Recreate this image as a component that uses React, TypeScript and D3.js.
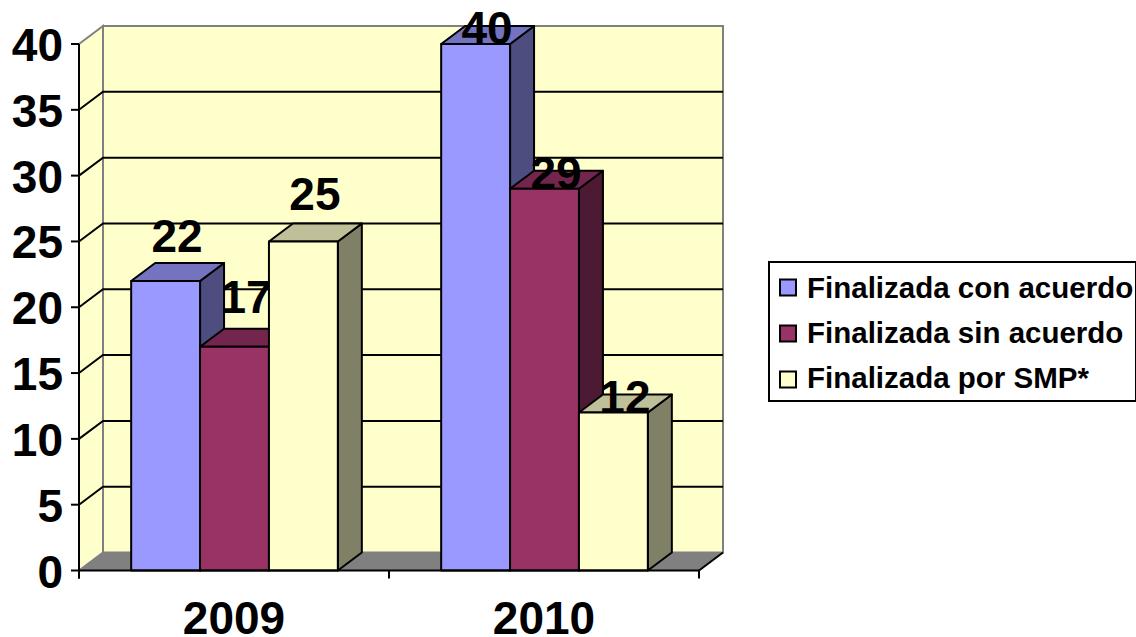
import React from "react";
import * as d3 from "d3";

const years = ["2009", "2010"];
const seriesNames = [
  "Finalizada con acuerdo",
  "Finalizada sin acuerdo",
  "Finalizada por SMP*",
];
const values2009 = [22, 17, 25];
const values2010 = [40, 29, 12];
const yTicks = [0, 5, 10, 15, 20, 25, 30, 35, 40];
const colors = ["#9999ff", "#993366", "#ffffcc"];

const width = 1136;
const height = 637;
const depthX = 24;
const depthY = 18;
const font = "'Liberation Sans', Arial, sans-serif";

const x0 = d3.scaleBand<string>().domain(years).range([79, 699]);
const x1 = d3
  .scaleBand<string>()
  .domain(seriesNames)
  .range([0.5, x0.bandwidth() + 0.5])
  .paddingInner(0)
  .paddingOuter(0.75);
const y = d3.scaleLinear().domain([0, 40]).range([570.5, 44]);

// the data labels of the first year float above the bar, the second year's sit on it
const labelLift: Record<string, number[]> = {
  "2009": [29, 34, 31],
  "2010": [0, 0, 0],
};

const rows = years.map((year, i) => ({
  year,
  values: i === 0 ? values2009 : values2010,
}));

const shade = (c: string, k: number) => {
  const rgb = d3.rgb(c);
  return d3.rgb(rgb.r * k, rgb.g * k, rgb.b * k).formatHex();
};

const pts = (p: number[][]) => p.map((d) => d.join(",")).join(" ");

export default function App() {
  const [left, right] = x0.range();
  const y0 = y(0);
  const yMax = y(40);

  return (
    <svg
      width={width}
      height={height}
      style={{ position: "absolute", left: 0, top: 0, background: "#fff" }}
      fontFamily={font}
      fontWeight="bold"
    >
      {/* walls and floor */}
      <polygon
        points={pts([
          [left + depthX, yMax - depthY],
          [right + depthX, yMax - depthY],
          [right + depthX, y0 - depthY],
          [left + depthX, y0 - depthY],
        ])}
        fill="#ffffcc"
        stroke="#808080"
        strokeWidth={2}
      />
      <polygon
        points={pts([
          [left, yMax],
          [left + depthX, yMax - depthY],
          [left + depthX, y0 - depthY],
          [left, y0],
        ])}
        fill="#ffffcc"
        stroke="#808080"
        strokeWidth={2}
      />
      <polygon
        points={pts([
          [left, y0],
          [left + depthX, y0 - depthY],
          [right + depthX, y0 - depthY],
          [right, y0],
        ])}
        fill="#808080"
      />

      {/* gridlines */}
      {yTicks
        .filter((t) => t > 0 && t < 40)
        .map((t) => (
          <polyline
            key={t}
            points={pts([
              [left, y(t)],
              [left + depthX, y(t) - depthY],
              [right + depthX, y(t) - depthY],
            ])}
            fill="none"
            stroke="#000"
            strokeWidth={2}
          />
        ))}

      {/* bars, each with its label so that the next bar can cover it */}
      {rows.map((row) =>
        row.values.map((v, i) => {
          const bx = (x0(row.year) as number) + (x1(seriesNames[i]) as number);
          const bw = x1.bandwidth();
          const top = y(v);
          return (
            <g key={row.year + i}>
              <g stroke="#000" strokeWidth={2} strokeLinejoin="round">
                <polygon
                  points={pts([
                    [bx + bw, top],
                    [bx + bw + depthX, top - depthY],
                    [bx + bw + depthX, y0 - depthY],
                    [bx + bw, y0],
                  ])}
                  fill={shade(colors[i], 0.5)}
                />
                <polygon
                  points={pts([
                    [bx, top],
                    [bx + depthX, top - depthY],
                    [bx + bw + depthX, top - depthY],
                    [bx + bw, top],
                  ])}
                  fill={shade(colors[i], 0.75)}
                />
                <rect x={bx} y={top} width={bw} height={y0 - top} fill={colors[i]} />
              </g>
              <text
                x={bx + bw / 2 + depthX / 2 - 0.5}
                y={top - labelLift[row.year][i]}
                textAnchor="middle"
                fontSize={46}
              >
                {v}
              </text>
            </g>
          );
        })
      )}

      {/* axes */}
      <line x1={left} x2={left} y1={yMax} y2={y0 + 8} stroke="#000" strokeWidth={2} />
      <line x1={left} x2={right} y1={y0} y2={y0} stroke="#000" strokeWidth={2} />
      <line x1={right} x2={right + depthX} y1={y0} y2={y0 - depthY} stroke="#000" strokeWidth={2} />
      {yTicks.map((t) => (
        <g key={t}>
          <line x1={left - 8} x2={left} y1={y(t)} y2={y(t)} stroke="#000" strokeWidth={2} />
          <text x={left - 16} y={y(t)} dy="0.37em" textAnchor="end" fontSize={46}>
            {t}
          </text>
        </g>
      ))}
      {[left, ...years.map((yr) => (x0(yr) as number) + x0.bandwidth())].map((tx) => (
        <line key={tx} x1={tx} x2={tx} y1={y0} y2={y0 + 8} stroke="#000" strokeWidth={2} />
      ))}
      {years.map((yr) => (
        <text
          key={yr}
          x={(x0(yr) as number) + x0.bandwidth() / 2}
          y={634}
          textAnchor="middle"
          fontSize={46}
        >
          {yr}
        </text>
      ))}

      {/* legend */}
      <rect x={769} y={262} width={367} height={139} fill="#fff" stroke="#000" strokeWidth={2} />
      {seriesNames.map((name, i) => (
        <g key={name}>
          <rect
            x={780}
            y={279.5 + i * 46}
            width={16}
            height={16}
            fill={colors[i]}
            stroke="#000"
            strokeWidth={2}
          />
          <text x={807} y={298 + i * 45} fontSize={29.5}>
            {name}
          </text>
        </g>
      ))}
    </svg>
  );
}
